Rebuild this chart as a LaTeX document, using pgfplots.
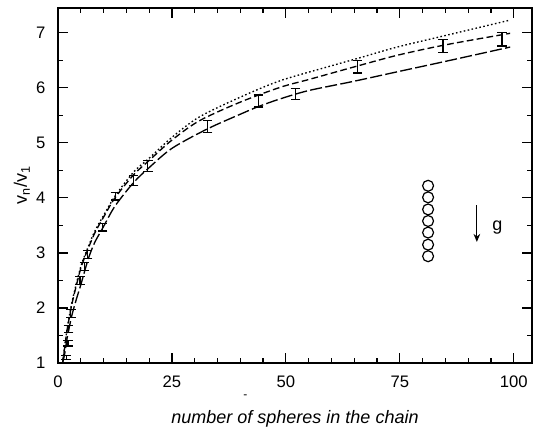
\documentclass[border=0pt]{standalone}
\usepackage{pgfplots}
\pgfplotsset{compat=1.18}
\usetikzlibrary{arrows.meta}
\usepackage{fontspec}
\setmainfont{Liberation Sans}
\begin{document}
\fontsize{12.5}{15}\selectfont
\begin{tikzpicture}
\begin{axis}[
  scale only axis, width=355.5pt, height=266.25pt,
  xmin=0, xmax=104, ymin=1, ymax=7.45,
  xtick={0,25,50,75,100}, minor xtick={5,10,...,100},
  ytick={1,2,...,7}, minor ytick={1.5,2.5,...,7.5},
  tick align=inside, major tick length=7.5pt, minor tick length=3.75pt,
  tick style={black, line width=0.9pt},
  axis line style={line width=1pt},
  every axis plot/.append style={line width=1pt},
  xticklabel style={yshift=-5.5pt},
  yticklabel style={xshift=-5pt},
  /pgf/number format/assume math mode=true,
  xlabel={\itshape number of spheres in the chain},
  xlabel style={at={(axis description cs:0.5,-0.132)}, anchor=north, inner sep=0pt, font=\fontsize{13.5}{16}\selectfont},
  ylabel={v\textsubscript{n}/v\textsubscript{1}},
  ylabel style={at={(axis description cs:-0.059,0.5)}, anchor=south, inner sep=0pt, font=\fontsize{13.5}{16}\selectfont},
  clip=false,
]
% long dashed (lowest)
\addplot[black, smooth, dash pattern=on 9pt off 2.5pt] coordinates {
 (1,1.0) (1.5,1.18) (2,1.45) (3,1.85) (4,2.15) (5,2.42) (6.6,2.88) (8,3.18) (10,3.48)
 (12.5,3.85) (16.6,4.28) (20,4.55) (25,4.9) (32.7,5.25) (40,5.52) (44,5.66)
 (48.8,5.80) (55,5.95) (65,6.12) (74.4,6.29) (85,6.48) (99.2,6.74)};
% dashed (middle)
\addplot[black, smooth, dash pattern=on 5pt off 2.5pt] coordinates {
 (1,1.0) (1.5,1.3) (2,1.6) (3,2.05) (4,2.4) (5,2.72) (6,2.95) (8,3.35) (10,3.65)
 (12.5,4.0) (16.6,4.42) (20,4.68) (25,5.05) (31,5.4) (40,5.74) (48.8,6.01)
 (55,6.15) (65,6.38) (74.4,6.59) (85,6.78) (99.2,6.99)};
% dotted (top)
\addplot[black, smooth, dash pattern=on 1.2pt off 1.8pt] coordinates {
 (1,1.0) (1.5,1.32) (2,1.62) (3,2.08) (4,2.43) (5,2.75) (6,2.98) (8,3.38) (10,3.68)
 (12.5,4.03) (16.6,4.47) (20,4.72) (25,5.1) (31,5.47) (40,5.83) (48.8,6.13)
 (60,6.4) (66,6.54) (74.4,6.74) (85,6.95) (99.2,7.23)};
% data with error bars
\addplot[draw=none, mark=none,
  error bars/.cd, y dir=both, y explicit, error mark=|,
  error bar style={draw=black, solid, line width=1pt},
  error mark options={draw=black, solid, mark size=3.6pt, line width=1pt}]
 coordinates {
 (1.8,1.1) +- (0,0.04)
 (2.2,1.36) +- (0,0.05)
 (2.3,1.62) +- (0,0.06)
 (2.8,1.9) +- (0,0.07)
 (4.8,2.5) +- (0,0.07)
 (5.8,2.75) +- (0,0.07)
 (6.5,2.97) +- (0,0.07)
 (9.8,3.47) +- (0,0.07)
 (12.6,4.03) +- (0,0.07)
 (16.6,4.32) +- (0,0.09)
 (19.7,4.58) +- (0,0.1)
 (32.8,5.3) +- (0,0.11)
 (44,5.76) +- (0,0.11)
 (52.1,5.89) +- (0,0.1)
 (65.7,6.38) +- (0,0.11)
 (84.5,6.76) +- (0,0.12)
 (97.4,6.88) +- (0,0.12)
 };
% chain of spheres
\addplot[black, only marks, mark=o, mark size=4.1pt, mark options={line width=0.9pt}] coordinates {
 (81.2,4.22) (81.2,4.01) (81.2,3.79) (81.2,3.58) (81.2,3.37) (81.2,3.15) (81.2,2.94)};
% gravity arrow
\addplot[black, line width=0.9pt, -{Stealth[length=6pt,width=5pt]}] coordinates {(91.9,3.87) (91.9,3.2)};
\node[font=\fontsize{13.5}{16}\selectfont] at (axis cs:96.4,3.47) {g};
\node[font=\fontsize{9}{10}\selectfont] at (axis cs:41.1,0.38) {-};
\end{axis}
\pgfresetboundingbox
\useasboundingbox (-43.5pt,-48.75pt) rectangle (360.75pt,272.25pt);
\end{tikzpicture}
\end{document}
